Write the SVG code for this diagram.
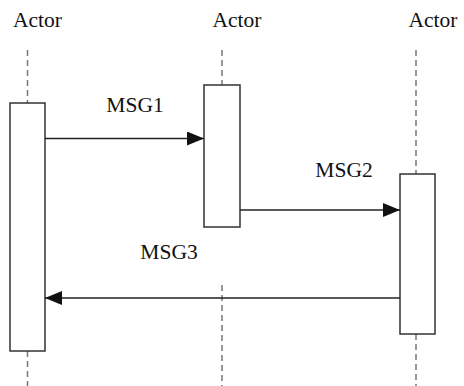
<svg xmlns="http://www.w3.org/2000/svg" width="464" height="386" viewBox="0 0 464 386">
<defs>
<style>
.life{stroke:#777;stroke-width:1.5;stroke-dasharray:6 4;fill:none}
.act{fill:#fff;stroke:#333;stroke-width:1.5}
.msg{stroke:#222;stroke-width:1.5;fill:none}
.t{font-family:"Liberation Serif","Times New Roman",serif;font-size:21.5px;fill:#111}
</style>
<marker id="ah" viewBox="0 0 17 14" refX="17" refY="7" markerWidth="17" markerHeight="14" markerUnits="userSpaceOnUse" orient="auto">
<path d="M0,0 L17,7 L0,14 Z" fill="#111"/>
</marker>
</defs>
<g id="actor1">
<text class="t" x="37.5" y="27" text-anchor="middle">Actor</text>
<line class="life" x1="27.5" y1="50" x2="27.5" y2="103"/>
<line class="life" x1="27.5" y1="351" x2="27.5" y2="386"/>
<rect class="act" x="10" y="103" width="35" height="248"/>
</g>
<g id="actor2">
<text class="t" x="237" y="27" text-anchor="middle">Actor</text>
<line class="life" x1="222" y1="50" x2="222" y2="85"/>
<line class="life" x1="222" y1="285" x2="222" y2="386"/>
<rect class="act" x="204" y="85" width="36" height="142"/>
</g>
<g id="actor3">
<text class="t" x="433" y="27" text-anchor="middle">Actor</text>
<line class="life" x1="416" y1="50" x2="416" y2="174"/>
<line class="life" x1="416" y1="334" x2="416" y2="386"/>
<rect class="act" x="400" y="174" width="35" height="160"/>
</g>
<g id="connectors">
<line class="msg" x1="45" y1="138.5" x2="204" y2="138.5" marker-end="url(#ah)"/>
<text class="t" x="135" y="112" text-anchor="middle">MSG1</text>
<line class="msg" x1="240" y1="210" x2="400" y2="210" marker-end="url(#ah)"/>
<text class="t" x="344" y="177" text-anchor="middle">MSG2</text>
<line class="msg" x1="400" y1="298" x2="45" y2="298" marker-end="url(#ah)"/>
<text class="t" x="169" y="259" text-anchor="middle">MSG3</text>
</g>
</svg>
